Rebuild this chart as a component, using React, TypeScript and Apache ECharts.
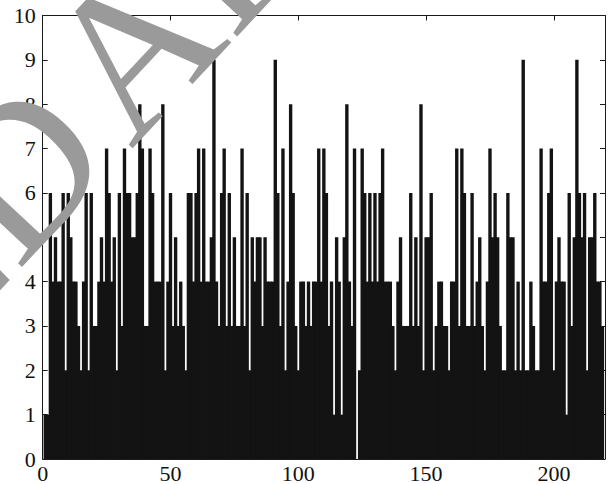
import React, { useEffect, useRef } from "react";
import * as echarts from "echarts";

const barPositions: number[] = Array.from({ length: 219 }, (_, i) => i + 1);

const barValues: number[] = [
  1, 1, 6, 4, 5, 4, 4, 6, 2, 6,
  5, 4, 4, 3, 2, 4, 6, 2, 6, 3,
  3, 4, 5, 4, 7, 6, 4, 5, 2, 6,
  3, 7, 6, 6, 5, 5, 6, 8, 7, 3,
  3, 7, 6, 4, 4, 4, 8, 2, 4, 6,
  3, 5, 3, 4, 3, 2, 6, 6, 4, 6,
  7, 4, 7, 4, 4, 5, 9, 4, 3, 6,
  7, 3, 6, 3, 5, 3, 3, 7, 3, 6,
  2, 5, 4, 5, 5, 3, 5, 4, 4, 4,
  9, 6, 3, 7, 2, 4, 8, 6, 3, 2,
  4, 4, 3, 4, 3, 4, 4, 7, 4, 7,
  6, 3, 4, 1, 5, 4, 1, 5, 8, 4,
  3, 7, 0, 2, 7, 6, 4, 6, 4, 6,
  4, 6, 7, 4, 4, 4, 3, 2, 4, 5,
  3, 3, 3, 6, 3, 5, 3, 8, 2, 5,
  5, 6, 2, 3, 4, 4, 3, 3, 2, 4,
  4, 7, 3, 7, 6, 3, 3, 6, 3, 4,
  5, 3, 2, 4, 7, 5, 6, 5, 3, 2,
  2, 6, 5, 5, 2, 4, 2, 9, 2, 2,
  4, 3, 2, 2, 7, 4, 4, 6, 7, 2,
  4, 5, 4, 4, 1, 6, 3, 5, 9, 6,
  5, 6, 2, 5, 5, 6, 4, 4, 3,
];

const xTickValues: number[] = [0, 50, 100, 150, 200];
const yTickValues: number[] = [0, 1, 2, 3, 4, 5, 6, 7, 8, 9, 10];
const watermarkFirst = "RETRACTED";
const watermarkSecond = "ARTICLE";

export default function App() {
  const ref = useRef<HTMLDivElement>(null);

  useEffect(() => {
    if (!ref.current) return;
    const chart = echarts.init(ref.current, null, { renderer: "svg" });

    const fontFamily = "Times New Roman, Liberation Serif, serif";
    const wmFamily = "Liberation Serif";
    const wmSize = 205;
    const angle = (47 * Math.PI) / 180;
    const dx = Math.cos(angle);
    const dy = -Math.sin(angle);
    // end of the baseline of "RETRACTED" (right side of the D)
    const dEndX = 143;
    const dEndY = 185.5;
    const gap = 18;
    const ax = dEndX + gap * dx;
    const ay = dEndY + gap * dy;

    const axisColor = "#1a1a1a";
    const labelStyle = {
      color: "#111",
      fontFamily,
      fontSize: 22,
    };

    chart.setOption({
      animation: false,
      backgroundColor: "#ffffff",
      grid: { left: 42.7, right: 5, top: 15.5, bottom: 22.5, containLabel: false },
      xAxis: [
        {
          type: "value",
          min: 0,
          max: 220,
          interval: 50,
          position: "bottom",
          axisLine: { show: true, lineStyle: { color: axisColor, width: 1 } },
          axisTick: {
            show: true,
            inside: true,
            length: 5,
            customValues: xTickValues,
            lineStyle: { color: axisColor },
          },
          splitLine: { show: false },
          axisLabel: {
            ...labelStyle,
            margin: 3,
            customValues: xTickValues,
          },
        },
        {
          type: "value",
          min: 0,
          max: 220,
          interval: 50,
          position: "top",
          axisLine: { show: true, onZero: false, lineStyle: { color: axisColor, width: 1 } },
          axisTick: {
            show: true,
            inside: true,
            length: 5,
            customValues: xTickValues,
            lineStyle: { color: axisColor },
          },
          splitLine: { show: false },
          axisLabel: { show: false },
        },
      ],
      yAxis: [
        {
          type: "value",
          min: 0,
          max: 10,
          interval: 1,
          position: "left",
          axisLine: { show: true, lineStyle: { color: axisColor, width: 1 } },
          axisTick: { show: true, inside: true, length: 5, lineStyle: { color: axisColor } },
          splitLine: { show: false },
          axisLabel: { ...labelStyle, margin: 7, customValues: yTickValues },
        },
        {
          type: "value",
          min: 0,
          max: 10,
          interval: 1,
          position: "right",
          axisLine: { show: true, onZero: false, lineStyle: { color: axisColor, width: 1 } },
          axisTick: { show: true, inside: true, length: 5, lineStyle: { color: axisColor } },
          splitLine: { show: false },
          axisLabel: { show: false },
        },
      ],
      series: [
        {
          type: "bar",
          xAxisIndex: 0,
          yAxisIndex: 0,
          barWidth: "132%",
          data: barPositions.map((x, i) => [x, barValues[i]]),
          itemStyle: { color: "#131313", borderWidth: 0 },
          silent: true,
        },
      ],
      graphic: [
        {
          type: "text",
          x: dEndX,
          y: dEndY,
          rotation: angle,
          z: 100,
          silent: true,
          style: {
            text: watermarkFirst,
            fill: "#9a9a9a",
            font: `${wmSize}px ${wmFamily}`,
            textAlign: "right",
            textVerticalAlign: "bottom",
          },
        },
        {
          type: "text",
          x: ax,
          y: ay,
          rotation: angle,
          z: 100,
          silent: true,
          style: {
            text: watermarkSecond,
            fill: "#9a9a9a",
            font: `${wmSize}px ${wmFamily}`,
            textAlign: "left",
            textVerticalAlign: "bottom",
          },
        },
      ],
    });

    return () => chart.dispose();
  }, []);

  return (
    <div
      ref={ref}
      style={{ position: "fixed", left: 0, top: 0, width: 610, height: 484 }}
    />
  );
}
